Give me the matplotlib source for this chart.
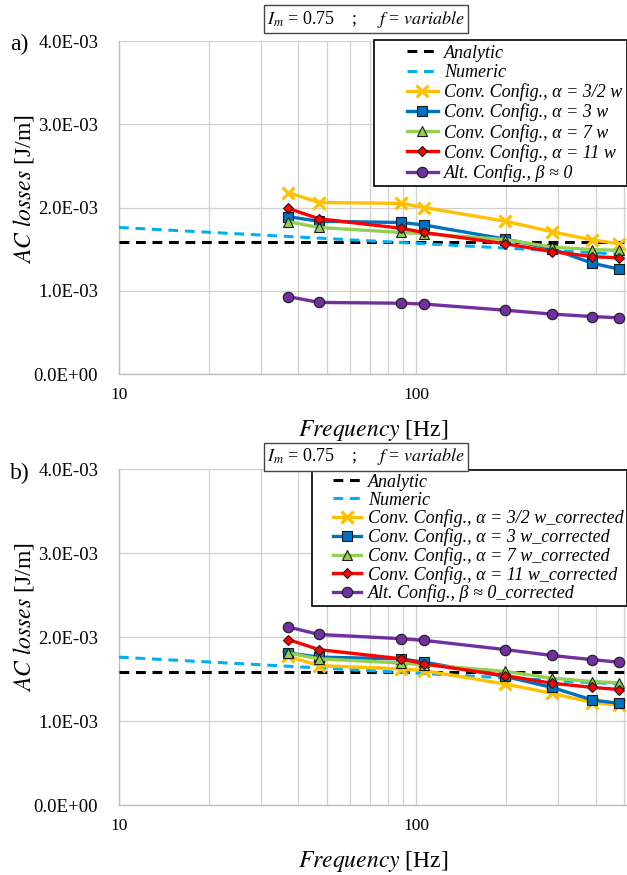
import matplotlib
matplotlib.use("Agg")
import matplotlib.pyplot as plt
from matplotlib.ticker import FixedLocator, FuncFormatter, LogLocator, NullFormatter
from matplotlib.legend_handler import HandlerLine2D

plt.rcParams['font.family'] = ['Liberation Serif', 'DejaVu Serif']
plt.rcParams['mathtext.fontset'] = 'stix'

# ---------------- data ----------------
freq = [37, 47, 89, 106, 199, 285, 390, 480]
analytic_freq = [10, 510]
analytic_vals = [1.58e-3, 1.58e-3]
numeric_freq = [10, 510]
numeric_vals = [1.76e-3, 1.435e-3]

# panel a
a_conv_15 = [2.18e-3, 2.06e-3, 2.05e-3, 2.00e-3, 1.835e-3, 1.71e-3, 1.61e-3, 1.565e-3]
a_conv_3 = [1.89e-3, 1.835e-3, 1.82e-3, 1.79e-3, 1.62e-3, 1.505e-3, 1.33e-3, 1.26e-3]
a_conv_7 = [1.83e-3, 1.76e-3, 1.70e-3, 1.685e-3, 1.615e-3, 1.525e-3, 1.495e-3, 1.485e-3]
a_conv_11 = [1.99e-3, 1.865e-3, 1.75e-3, 1.70e-3, 1.565e-3, 1.47e-3, 1.41e-3, 1.395e-3]
a_alt = [0.93e-3, 0.86e-3, 0.85e-3, 0.84e-3, 0.766e-3, 0.72e-3, 0.69e-3, 0.675e-3]

# panel b
b_conv_15 = [1.77e-3, 1.66e-3, 1.62e-3, 1.60e-3, 1.44e-3, 1.33e-3, 1.22e-3, 1.19e-3]
b_conv_3 = [1.81e-3, 1.76e-3, 1.74e-3, 1.70e-3, 1.53e-3, 1.40e-3, 1.25e-3, 1.21e-3]
b_conv_7 = [1.81e-3, 1.74e-3, 1.69e-3, 1.67e-3, 1.59e-3, 1.51e-3, 1.47e-3, 1.455e-3]
b_conv_11 = [1.97e-3, 1.85e-3, 1.74e-3, 1.68e-3, 1.54e-3, 1.45e-3, 1.40e-3, 1.375e-3]
b_alt = [2.12e-3, 2.03e-3, 1.98e-3, 1.96e-3, 1.85e-3, 1.78e-3, 1.73e-3, 1.70e-3]

labels_a = ['Analytic', 'Numeric',
            'Conv. Config., α = 3/2 w', 'Conv. Config., α = 3 w',
            'Conv. Config., α = 7 w', 'Conv. Config., α = 11 w',
            'Alt. Config., β ≈ 0']
labels_b = ['Analytic', 'Numeric',
            'Conv. Config., α = 3/2 w_corrected', 'Conv. Config., α = 3 w_corrected',
            'Conv. Config., α = 7 w_corrected', 'Conv. Config., α = 11 w_corrected',
            'Alt. Config., β ≈ 0_corrected']
yticks = [0, 1e-3, 2e-3, 3e-3, 4e-3]

# ---------------- styles ----------------
C_YEL = '#FFC000'
C_BLU = '#0070C0'
C_GRN = '#92D050'
C_RED = '#FF0000'
C_PUR = '#7030A0'
C_NUM = '#00B0F0'
EDGE = '#1a1a1a'

fig = plt.figure(figsize=(6.27, 8.75), dpi=100)
W, H = 627, 875


class ShiftHandler(HandlerLine2D):
    def __init__(self, frac, **kw):
        super().__init__(**kw)
        self.frac = frac

    def create_artists(self, legend, orig_handle, xdescent, ydescent, width, height,
                       fontsize, trans):
        shift = width * self.frac
        return super().create_artists(legend, orig_handle, xdescent - shift, ydescent,
                                      width - shift, height, fontsize, trans)


def make_axes(top_px, bot_px):
    left = 119 / W
    return fig.add_axes([left, 1 - bot_px / H, 1 - left, (bot_px - top_px) / H])


def draw_panel(ax, series, labels, leg_top, leg_opts, tag, tag_y, title_y, ylab_y):
    s15, s3, s7, s11, salt = series
    lines = []
    lines += ax.plot(analytic_freq, analytic_vals, ls=(0, (3.2, 2.2)), color='black', lw=2.2,
                     label=labels[0], zorder=3)
    lines += ax.plot(numeric_freq, numeric_vals, ls=(0, (3.2, 2.2)), color=C_NUM, lw=2.2,
                     label=labels[1], zorder=3)
    lines += ax.plot(freq, s15, color=C_YEL, lw=2.4, marker='x', ms=8.5, mew=2.3,
                     label=labels[2], zorder=4)
    lines += ax.plot(freq, s3, color=C_BLU, lw=2.4, marker='s', ms=6.5, mec=EDGE, mew=0.8,
                     label=labels[3], zorder=5)
    lines += ax.plot(freq, s7, color=C_GRN, lw=2.4, marker='^', ms=7, mec=EDGE, mew=0.8,
                     label=labels[4], zorder=6)
    lines += ax.plot(freq, s11, color=C_RED, lw=2.4, marker='D', ms=5, mec=EDGE, mew=0.8,
                     label=labels[5], zorder=7)
    lines += ax.plot(freq, salt, color=C_PUR, lw=2.4, marker='o', ms=7.5, mec=EDGE, mew=0.8,
                     label=labels[6], zorder=5)

    ax.set_xscale('log')
    ax.set_xlim(10, 510)
    ax.set_ylim(0, 4e-3)
    ax.yaxis.set_major_locator(FixedLocator(yticks))
    ax.yaxis.set_major_formatter(FuncFormatter(lambda v, p: f'{v:.1E}'))
    ax.xaxis.set_major_locator(LogLocator(base=10))
    ax.xaxis.set_minor_locator(LogLocator(base=10, subs=range(2, 10)))
    ax.xaxis.set_minor_formatter(NullFormatter())
    ax.xaxis.set_major_formatter(FuncFormatter(lambda v, p: f'{int(round(v))}'))
    ax.grid(True, which='both', axis='x', color='#d0d0d0', lw=0.9)
    ax.grid(True, which='major', axis='y', color='#d0d0d0', lw=0.9)
    ax.set_axisbelow(True)
    for s in ['top', 'right']:
        ax.spines[s].set_visible(False)
    for s in ['left', 'bottom']:
        ax.spines[s].set_color('#bdbdbd')
        ax.spines[s].set_linewidth(1.0)
    ax.tick_params(axis='both', which='both', length=0)
    ax.tick_params(axis='y', labelsize=13.5, pad=15)
    ax.tick_params(axis='x', labelsize=12.5, pad=9)

    ax.set_ylabel(r'$\mathit{AC\ losses}$ [J/m]', fontsize=17)
    ax.yaxis.set_label_coords(-0.163, ylab_y)
    ax.set_xlabel(r'$\mathit{Frequency}$ [Hz]', fontsize=17, labelpad=11)

    hl = leg_opts.pop('handlelength')
    frac = leg_opts.pop('frac')
    leg = ax.legend(handles=lines, loc='upper right',
                    bbox_to_anchor=(627 / W, 1 - leg_top / H), bbox_transform=fig.transFigure,
                    prop={'family': 'Liberation Serif', 'style': 'italic', 'size': 13},
                    frameon=True, fancybox=False, edgecolor='black', framealpha=1,
                    handlelength=hl, handletextpad=0.35, borderaxespad=0,
                    handler_map={l: ShiftHandler(frac) for l in lines}, **leg_opts)
    leg.get_frame().set_linewidth(1.2)

    fig.text(10 / W, 1 - tag_y / H, tag, fontsize=17, ha='left', va='center')
    fig.text(366 / W, 1 - title_y / H,
             r'$I_m$ = 0.75    ;     $f$ = $\mathit{variable}$',
             fontsize=13, ha='center', va='center',
             bbox=dict(boxstyle='square,pad=0.18', fc='white', ec='#444444', lw=1.0))


ax_a = make_axes(41, 374)
draw_panel(ax_a, [a_conv_15, a_conv_3, a_conv_7, a_conv_11, a_alt], labels_a, 40,
           dict(handlelength=3.3, frac=0.48, labelspacing=0.13, borderpad=0.25),
           'a)', 44, 19, 0.556)

ax_b = make_axes(469, 805)
draw_panel(ax_b, [b_conv_15, b_conv_3, b_conv_7, b_conv_11, b_alt], labels_b, 470,
           dict(handlelength=2.55, frac=0.38, labelspacing=0.05, borderpad=0.2),
           'b)', 473, 457, 0.56)

fig.savefig('out.png', dpi=100)
